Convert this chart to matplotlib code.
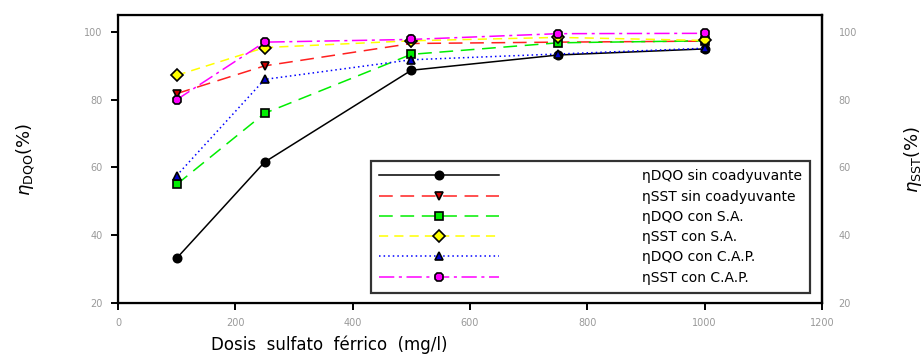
import matplotlib.pyplot as plt

dosis = [100, 250, 500, 750, 1000]

dqo_sin = [33.2, 61.6, 88.7, 93.2, 95.0]
sst_sin = [81.8, 90.0, 96.6, 97.0, 97.3]
dqo_sa = [55.0, 76.0, 93.4, 96.8, 97.4]
sst_sa = [87.2, 95.4, 97.4, 98.4, 97.5]
dqo_cap = [57.6, 86.0, 91.8, 93.5, 95.2]
sst_cap = [80.0, 97.0, 97.8, 99.5, 99.6]

labels = ["ηDQO sin coadyuvante", "ηSST sin coadyuvante", "ηDQO con S.A.",
          "ηSST con S.A.", "ηDQO con C.A.P.", "ηSST con C.A.P."]

x_ticks = [0, 200, 400, 600, 800, 1000, 1200]
y_ticks = [20, 40, 60, 80, 100]

fig = plt.figure(figsize=(9.23, 3.58), dpi=100)
ax = fig.add_axes([0.1278, 0.1536, 0.7628, 0.8044])

series = [
    (dqo_sin, 'black', '-', 'o', 'black'),
    (sst_sin, '#ff2020', (0, (9, 5)), 'v', '#cc0000'),
    (dqo_sa, '#00ee00', (0, (9, 5)), 's', '#00ee00'),
    (sst_sa, '#ffff00', (0, (6, 4)), 'D', '#ffff00'),
    (dqo_cap, '#0000ff', (0, (1, 2)), '^', '#0000cc'),
    (sst_cap, '#ff00ff', (0, (10, 3, 2, 3)), '8', '#ff00ff'),
]

for (vals, col, ls, mk, fc), lab in zip(series, labels):
    ax.plot(dosis, vals, color=col, linestyle=ls, linewidth=1.1,
            marker=mk, markersize=6, markerfacecolor=fc,
            markeredgecolor='black', markeredgewidth=1.2, label=lab)

ax.set_xlim(0, 1200)
ax.set_ylim(20, 105)
ax.set_xticks(x_ticks)
ax.set_yticks(y_ticks)
for s in ax.spines.values():
    s.set_linewidth(1.6)
ax.tick_params(axis='both', direction='out', length=5, width=1.4,
               labelsize=7, labelcolor='#999999', pad=6)

ax2 = ax.twinx()
ax2.set_ylim(20, 105)
ax2.set_yticks(y_ticks)
ax2.tick_params(axis='y', length=0, labelsize=7, labelcolor='#999999', pad=12)
ax2.spines['right'].set_linewidth(1.6)

ax.set_ylabel(r'$\eta_{\mathrm{DQO}}$(%)', fontsize=13, labelpad=34)
ax2.set_ylabel(r'$\eta_{\mathrm{SST}}$(%)', fontsize=13, labelpad=32)
fig.text(0.357, 0.012, 'Dosis  sulfato  férrico  (mg/l)', fontsize=12,
         ha='center', va='bottom')

leg = ax.legend(loc='lower right', bbox_to_anchor=(0.983, 0.035), fontsize=10,
                frameon=True, fancybox=False, edgecolor='black',
                borderaxespad=0, handlelength=8.6, handletextpad=10.3,
                labelspacing=0.45, borderpad=0.6)
leg.get_frame().set_linewidth(1.6)

fig.savefig('out.png', dpi=100)
